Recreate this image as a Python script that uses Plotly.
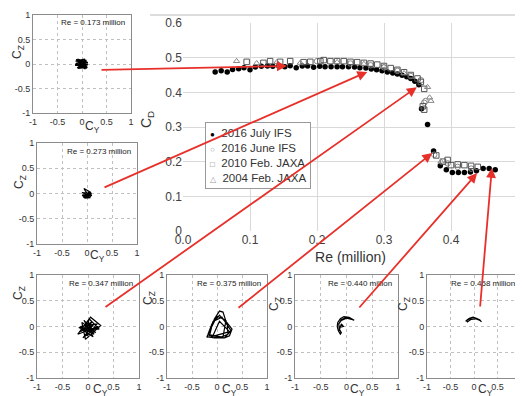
import plotly.graph_objects as go

SCREEN_W, SCREEN_H = 523, 396
OFF = 8                      # page body margin of the html page
W, H = SCREEN_W - OFF, SCREEN_H - OFF

# ---------------- main chart data ----------------
re_july = [0.048,0.057,0.066,0.074,0.083,0.091,0.100,0.108,0.117,0.126,0.134,0.143,0.152,0.160,0.169,0.178,0.186,
           0.195,0.204,0.212,0.221,0.230,0.238,0.247,0.256,0.264,0.273,0.281,0.289,0.297,0.305,0.313,0.320,0.327,
           0.334,0.340,0.346,0.352,0.356,0.365,0.374,0.384,0.393,0.402,0.411,0.420,0.429,0.438,0.448,0.457,0.466]
cd_july = [0.459,0.462,0.459,0.466,0.468,0.471,0.465,0.473,0.475,0.476,0.475,0.476,0.474,0.477,0.471,0.476,0.476,
           0.472,0.475,0.474,0.474,0.474,0.474,0.474,0.473,0.471,0.470,0.467,0.465,0.462,0.459,0.456,0.453,0.449,
           0.445,0.440,0.432,0.422,0.353,0.307,0.231,0.188,0.177,0.169,0.169,0.169,0.170,0.174,0.180,0.180,0.177]

re_june = [0.200,0.250,0.280,0.300,0.320,0.340,0.355,0.362,0.360,0.375,0.395,0.410,0.430]
cd_june = [0.490,0.483,0.478,0.472,0.462,0.447,0.435,0.375,0.370,0.220,0.195,0.185,0.180]

re_2010 = [0.095,0.120,0.130,0.145,0.160,0.180,0.190,0.205,0.210,0.220,0.230,0.240,0.250,0.260,0.270,0.280,
           0.290,0.300,0.310,0.320,0.330,0.340,0.350,0.355,0.360,0.358,0.360,0.378,0.388,0.395,0.400,0.410,
           0.420,0.430,0.440]
cd_2010 = [0.488,0.485,0.490,0.488,0.490,0.487,0.488,0.490,0.493,0.490,0.490,0.490,0.488,0.487,0.485,0.483,
           0.480,0.476,0.470,0.465,0.458,0.450,0.440,0.430,0.410,0.360,0.350,0.218,0.200,0.205,0.190,0.192,
           0.190,0.188,0.185]

re_2004 = [0.080,0.110,0.140,0.175,0.230,0.270,0.300,0.330,0.365,0.368,0.370,0.385]
cd_2004 = [0.490,0.484,0.487,0.485,0.487,0.482,0.475,0.455,0.415,0.385,0.375,0.200]

series_names = ["2016 July IFS", "2016 June IFS", "2010 Feb. JAXA", "2004 Feb. JAXA"]
legend_glyphs = ["●", "○", "□", "△"]
legend_glyph_colors = ["#000000", "#999999", "#777777", "#999999"]

x_ticks = [0.0, 0.1, 0.2, 0.3, 0.4, 0.5]
x_ticktext = ["0.0", "0.1", "0.2", "0.3", "0.4", "0.5"]
y_ticks = [0, 0.1, 0.2, 0.3, 0.4, 0.5, 0.6]

# ---------------- small Cy-Cz panels ----------------
panel_re = ["0.173", "0.273", "0.347", "0.375", "0.440", "0.458"]
# arrow heads (Re, Cd) on main chart for each panel
arrow_re = [0.155, 0.275, 0.349, 0.372, 0.439, 0.461]
arrow_cd = [0.476, 0.459, 0.415, 0.225, 0.167, 0.182]

cy_a = [-0.12,0.10,-0.13,0.11,-0.10,0.12,-0.14,0.09,-0.08,0.11,-0.12,0.08,-0.05,0.06,-0.10,0.10,-0.13,0.12,-0.09,0.07,-0.14,0.12]
cz_a = [0.02,-0.05,0.06,0.04,-0.08,0.00,-0.03,0.08,-0.09,-0.07,0.09,0.05,-0.10,0.10,0.07,-0.09,-0.02,0.03,0.10,-0.10,0.00,-0.02]

cy_b = [-0.09,0.08,-0.10,0.09,-0.07,0.10,-0.08,0.06,-0.05,0.07,-0.09,0.08,-0.06,-0.04,0.05,-0.10,0.09,-0.03,0.04]
cz_b = [-0.02,-0.06,0.02,0.00,-0.08,-0.04,-0.07,0.03,-0.09,-0.08,-0.05,0.02,0.10,0.06,-0.06,-0.04,-0.02,-0.09,0.04]

cy_c = [-0.15,0.12,-0.10,0.20,-0.20,0.05,0.25,-0.05,-0.12,0.15,-0.08,0.10,-0.18,0.22,0.02,-0.03,0.08,-0.10,0.12,-0.06,0.05,-0.15,0.18,-0.02,0.00,0.06,-0.08,0.10]
cz_c = [-0.10,0.05,-0.22,0.00,-0.15,0.18,0.02,-0.25,0.08,-0.12,0.12,-0.20,-0.02,-0.05,0.15,-0.08,0.10,-0.05,-0.15,0.05,-0.12,0.00,0.05,-0.18,0.10,-0.03,-0.10,0.02]

cy_d = [-0.20,-0.05,0.05,0.12,0.18,0.25,0.30,0.25,0.15,-0.05,-0.20,-0.10,0.05,0.20,0.22,0.10,-0.15,-0.08,0.10,0.28,0.15,-0.18,0.00,0.18,0.12,-0.10,0.05,0.25,-0.12]
cz_d = [-0.22,0.15,0.30,0.28,0.10,0.00,-0.05,-0.18,-0.22,-0.22,-0.20,0.05,0.22,0.05,-0.15,-0.20,-0.18,0.10,0.18,-0.08,-0.22,-0.15,0.20,0.12,-0.20,-0.22,0.10,-0.10,-0.20]

cy_e = [0.15,0.05,-0.05,-0.12,-0.17,-0.18,-0.16,-0.12,-0.10,-0.14,-0.15,-0.10,-0.02,0.08,0.14,0.10,0.00,-0.10,-0.15,-0.14,-0.06,-0.10,-0.15,-0.12]
cz_e = [0.12,0.18,0.19,0.15,0.08,0.00,-0.08,-0.15,-0.12,-0.05,0.05,0.13,0.17,0.16,0.12,0.14,0.16,0.12,0.05,-0.02,0.00,0.05,-0.10,-0.13]

cy_f = [-0.18,-0.12,-0.05,0.02,0.08,0.13,0.16,0.12,0.05,-0.02,-0.10,-0.16,-0.14,-0.06,0.03,0.10,0.15]
cz_f = [0.10,0.14,0.17,0.17,0.15,0.12,0.09,0.13,0.16,0.18,0.16,0.12,0.09,0.14,0.15,0.13,0.10]

panel_cy = [cy_a, cy_b, cy_c, cy_d, cy_e, cy_f]
panel_cz = [cz_a, cz_b, cz_c, cz_d, cz_e, cz_f]
small_ticks = [-1, -0.5, 0, 0.5, 1]
small_ticktext = ["-1", "-0.5", "0", "0.5", "1"]

# ---------------- layout geometry (screen pixels) ----------------
main_box = (183, 518, 23, 231)  # x0, x1, ytop, ybottom
panel_boxes = [
    (33, 131, 15, 113),
    (37, 137, 143, 244),
    (37, 139, 275, 378),
    (167, 267, 275, 378),
    (295, 398, 275, 378),
    (427, 521, 275, 378),
]
cy_title_pos = [(92, 127), (97, 256), (100, 390), (229, 390), (357, 390), (485, 390)]
cz_title_pos = [(18, 52), (20, 182), (19, 293), (149, 298), (275, 304), (404, 304)]
cd_title_pos = (147, 120)
# arrow tails in screen pixels
arrow_tails = [(100, 70), (103, 188), (104, 308), (237, 309), (358, 309), (480, 308)]
legend_box = (205, 122)  # top-left of legend, screen px

FONT = "Liberation Sans, Arial, sans-serif"


def px(x):
    return (x - OFF) / W


def py(y):
    return 1 - (y - OFF) / H


def xdom(b):
    return [px(b[0]), px(b[1])]


def ydom(b):
    return [py(b[3]), py(b[2])]


fig = go.Figure()

fig.add_trace(go.Scatter(x=re_july, y=cd_july, mode="markers", name=series_names[0],
                         marker=dict(symbol="circle", size=5.5, color="black")))
fig.add_trace(go.Scatter(x=re_june, y=cd_june, mode="markers", name=series_names[1],
                         marker=dict(symbol="circle-open", size=5.5, color="#888888", line=dict(width=1))))
fig.add_trace(go.Scatter(x=re_2010, y=cd_2010, mode="markers", name=series_names[2],
                         marker=dict(symbol="square-open", size=5.5, color="#555555", line=dict(width=1))))
fig.add_trace(go.Scatter(x=re_2004, y=cd_2004, mode="markers", name=series_names[3],
                         marker=dict(symbol="triangle-up-open", size=5.5, color="#888888", line=dict(width=1))))

layout = dict(
    width=W, height=H,
    margin=dict(l=0, r=0, t=0, b=0, autoexpand=False),
    paper_bgcolor="white", plot_bgcolor="white",
    font=dict(family=FONT, color="#333333"),
    showlegend=False,
    xaxis=dict(domain=xdom(main_box), range=[0, 0.5], tickvals=x_ticks, ticktext=x_ticktext,
               showgrid=True, gridcolor="#d9d9d9", zeroline=False, showline=False, automargin=False,
               tickfont=dict(size=12, color="#404040"), ticks="",
               title=dict(text="Re (million)", font=dict(size=14, color="#333333"), standoff=6)),
    yaxis=dict(domain=ydom(main_box), range=[0, 0.6], tickvals=y_ticks,
               showgrid=True, gridcolor="#d9d9d9", zeroline=False, showline=False, automargin=False,
               tickfont=dict(size=12, color="#404040"), ticks=""),
)

centered = dict(xref="paper", yref="paper", xanchor="center", yanchor="middle", showarrow=False)

annotations = []
annotations.append(dict(centered, text="C<sub>D</sub>", x=px(cd_title_pos[0]), y=py(cd_title_pos[1]),
                        textangle=-90, font=dict(size=14, color="#333333")))
for i in range(6):
    k = i + 2
    xa, ya = f"x{k}", f"y{k}"
    b = panel_boxes[i]
    fig.add_trace(go.Scatter(x=panel_cy[i], y=panel_cz[i], mode="lines", xaxis=xa, yaxis=ya,
                             line=dict(color="black", width=1.2), showlegend=False, hoverinfo="skip"))
    common = dict(range=[-1, 1], tickvals=small_ticks, ticktext=small_ticktext, showgrid=True,
                  gridcolor="#c0c0c0", griddash="dot", zeroline=False, showline=True, mirror=True,
                  linecolor="#8c8c8c", linewidth=1, ticks="", automargin=False,
                  tickfont=dict(size=9, color="#333333"))
    layout[f"xaxis{k}"] = dict(common, domain=xdom(b), anchor=ya)
    layout[f"yaxis{k}"] = dict(common, domain=ydom(b), anchor=xa)
    annotations.append(dict(text=f"Re = {panel_re[i]} million", xref=xa, yref=ya, x=0.92, y=0.84,
                            xanchor="right", yanchor="middle", showarrow=False,
                            font=dict(size=8, color="#222222")))
    annotations.append(dict(centered, text="C<sub>Y</sub>", x=px(cy_title_pos[i][0]),
                            y=py(cy_title_pos[i][1]), font=dict(size=12, color="#333333")))
    annotations.append(dict(centered, text="C<sub>Z</sub>", x=px(cz_title_pos[i][0]),
                            y=py(cz_title_pos[i][1]), textangle=-90, font=dict(size=12, color="#333333")))

# legend drawn as a bordered text box
legend_lines = [f'<span style="font-size:8px;color:{c}">{g}</span>  {n}'
                for g, c, n in zip(legend_glyphs, legend_glyph_colors, series_names)]
annotations.append(dict(text="<br>".join(legend_lines), xref="paper", yref="paper",
                        x=px(legend_box[0]), y=py(legend_box[1]), xanchor="left", yanchor="top",
                        align="left", showarrow=False, bordercolor="#999999", borderwidth=1,
                        borderpad=4, bgcolor="white", font=dict(size=11.5, color="#333333")))

# red arrows from panels to main-chart points
for i in range(6):
    x0, x1, yt, yb = main_box
    hx = x0 + (arrow_re[i] - 0) / 0.5 * (x1 - x0)
    hy = yb - arrow_cd[i] / 0.6 * (yb - yt)
    tx, ty = arrow_tails[i]
    annotations.append(dict(x=arrow_re[i], y=arrow_cd[i], xref="x", yref="y", ax=tx - hx, ay=ty - hy,
                            axref="pixel", ayref="pixel", showarrow=True, arrowhead=2, arrowsize=1.1,
                            arrowwidth=1.8, arrowcolor="#e8302a", text=""))

layout["annotations"] = annotations
# thin frame line at top of main chart area
layout["shapes"] = [dict(type="line", xref="paper", yref="paper", x0=px(150), x1=1, y0=py(15), y1=py(15),
                         line=dict(color="#bbbbbb", width=1))]

fig.update_layout(**layout)
fig.write_html("out.html")
